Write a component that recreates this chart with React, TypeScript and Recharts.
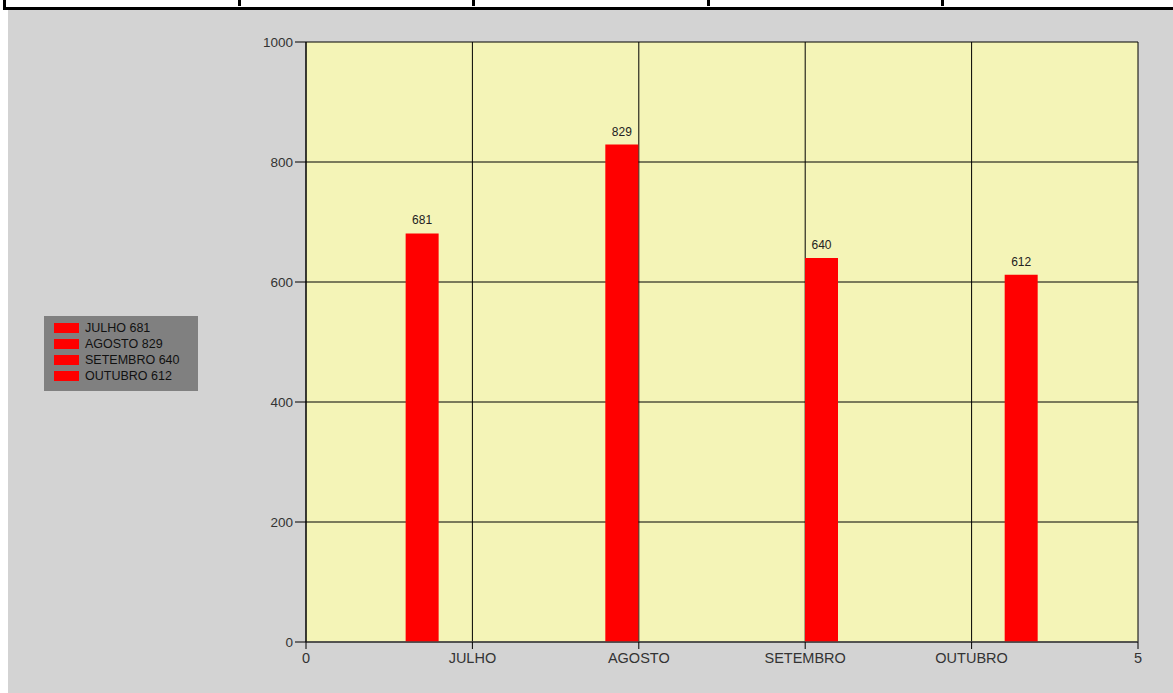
import { BarChart, Bar, XAxis, YAxis, CartesianGrid, LabelList } from 'recharts'

const months = ['JULHO', 'AGOSTO', 'SETEMBRO', 'OUTUBRO']
const values = [681, 829, 640, 612]
// where each bar sits on the 0..5 numeric axis
const barX = [0.7, 1.9, 3.1, 4.3]
const xTicks = [0, 1, 2, 3, 4, 5]
const xTickLabels = ['0', 'JULHO', 'AGOSTO', 'SETEMBRO', 'OUTUBRO', '5']
const yTicks = [0, 200, 400, 600, 800, 1000]

const data = months.map((m, i) => ({ name: m, x: barX[i], value: values[i] }))

const FONT = '"Liberation Sans", Arial, sans-serif'
const dividers = [238, 472, 707, 941]

export default function App() {
  return (
    <div style={{ position: 'absolute', left: 0, top: 0, width: 1173, height: 693, overflow: 'hidden', background: '#fff', fontFamily: FONT }}>
      {/* table strip at the very top */}
      <div style={{ position: 'absolute', left: 3, top: -10, width: 1200, height: 14, border: '3px solid #000', background: '#fff' }} />
      {dividers.map(x => (
        <div key={x} style={{ position: 'absolute', left: x, top: 0, width: 3, height: 6, background: '#000' }} />
      ))}

      <div style={{ position: 'absolute', left: 8, top: 10, width: 1165, height: 683, background: '#d3d3d3' }}>
        <BarChart
          width={1165}
          height={683}
          data={data}
          margin={{ top: 32, right: 35, left: 238, bottom: 21 }}
        >
          <CartesianGrid stroke="#000" fill="#f4f4b7" fillOpacity={1} />
          <XAxis
            dataKey="x"
            type="number"
            domain={[0, 5]}
            ticks={xTicks}
            interval={0}
            height={30}
            tickFormatter={(v: number) => xTickLabels[xTicks.indexOf(v)] ?? String(v)}
            tick={{ fontSize: 14.5, fill: '#333', fontFamily: FONT }}
            tickLine={{ stroke: '#000' }}
            tickSize={7}
            tickMargin={4}
            axisLine={{ stroke: '#4a4a4a', strokeWidth: 1.5 }}
          />
          <YAxis
            type="number"
            domain={[0, 1000]}
            ticks={yTicks}
            interval={0}
            width={60}
            tick={{ fontSize: 13.5, fill: '#333', fontFamily: FONT }}
            tickLine={{ stroke: '#000' }}
            tickSize={11}
            tickMargin={2}
            axisLine={{ stroke: '#000' }}
          />
          <Bar dataKey="value" fill="#ff0000" barSize={33} isAnimationActive={false}>
            <LabelList dataKey="value" position="top" offset={9} style={{ fontSize: 12, fill: '#222', fontFamily: FONT }} />
          </Bar>
        </BarChart>
      </div>

      {/* legend box */}
      <div style={{ position: 'absolute', left: 44, top: 316, width: 154, height: 75, background: '#808080', boxSizing: 'border-box', paddingTop: 4 }}>
        {months.map((m, i) => (
          <div key={m} style={{ height: 16, display: 'flex', alignItems: 'center' }}>
            <div style={{ marginLeft: 10, width: 25, height: 10, background: '#ff0000' }} />
            <span style={{ marginLeft: 6, fontSize: 12.5, color: '#111', lineHeight: '16px' }}>{m} {values[i]}</span>
          </div>
        ))}
      </div>
    </div>
  )
}
